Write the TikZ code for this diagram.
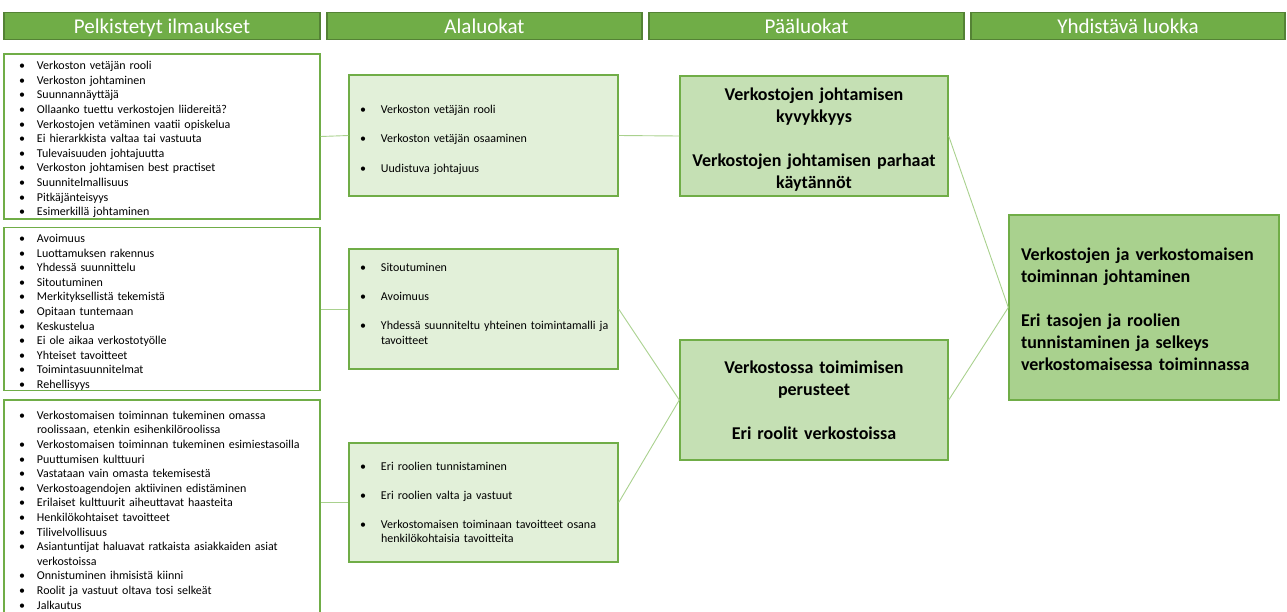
\documentclass[tikz,border=0pt]{standalone}
\usepackage{fontspec}
\setmainfont{Carlito}
\definecolor{hdrfill}{HTML}{70AD47}
\definecolor{hdrdraw}{HTML}{548235}
\definecolor{gborder}{HTML}{70AD47}
\definecolor{midfill}{HTML}{E2F0D9}
\definecolor{mainfill}{HTML}{C5E0B4}
\definecolor{finfill}{HTML}{A9D18E}
\definecolor{connc}{HTML}{A9D18E}
\newcommand{\bl}[1]{\makebox[18pt][l]{\textbullet}\mbox{#1}}
\newcommand{\bm}[1]{\makebox[21pt][l]{\textbullet}\mbox{#1}}
\tikzset{
  hdrbox/.style={draw=hdrdraw, line width=1.2pt, fill=hdrfill, text=white,
    inner sep=0pt, minimum height=27pt, text height=17pt, text depth=2pt,
    font=\fontsize{21}{24}\selectfont},
  leftbox/.style={draw=gborder, line width=1.4pt, fill=white, align=left,
    inner xsep=15pt, inner ysep=0pt, text width=286pt, minimum width=316pt,
    font=\fontsize{12}{14.6}\selectfont},
  midbox/.style={draw=gborder, line width=1.4pt, fill=midfill, align=left,
    inner xsep=11pt, inner ysep=0pt, text width=247pt, minimum width=269pt,
    font=\fontsize{12}{14.5}\selectfont},
  mainbox/.style={draw=gborder, line width=1.4pt, fill=mainfill, align=center,
    inner xsep=4pt, inner ysep=0pt, text width=260pt, minimum width=268pt,
    minimum height=120pt, font=\bfseries\fontsize{18}{22}\selectfont},
  finbox/.style={draw=gborder, line width=1.4pt, fill=finfill, align=left,
    inner xsep=12pt, inner ysep=0pt, text width=246pt, minimum width=270pt,
    minimum height=185pt, font=\bfseries\fontsize{18}{22}\selectfont},
  conn/.style={draw=connc, line width=0.9pt}
}
\begin{document}
\begin{tikzpicture}[x=1pt,y=-1pt]
\useasboundingbox (0,0) rectangle (1287,611);
% headers
\node[hdrbox, minimum width=316pt] (h1) at (162,25.8) {Pelkistetyt ilmaukset};
\node[hdrbox, minimum width=315pt] (h2) at (484.5,25.8) {Alaluokat};
\node[hdrbox, minimum width=315pt] (h3) at (806.5,25.8) {Pääluokat};
\node[hdrbox, minimum width=314pt] (h4) at (1128,25.8) {Yhdistävä luokka};
% left boxes
\node[leftbox, minimum height=165pt] (la) at (162,136.5) {%
\rule{0pt}{14.5pt}\bl{Verkoston vetäjän rooli}\\
\bl{Verkoston johtaminen}\\
\bl{Suunnannäyttäjä}\\
\bl{Ollaanko tuettu verkostojen liidereitä?}\\
\bl{Verkostojen vetäminen vaatii opiskelua}\\
\bl{Ei hierarkkista valtaa tai vastuuta}\\
\bl{Tulevaisuuden johtajuutta}\\
\bl{Verkoston johtamisen best practiset}\\
\bl{Suunnitelmallisuus}\\
\bl{Pitkäjänteisyys}\\
\bl{Esimerkillä johtaminen}};
\node[leftbox, minimum height=161pt] (lb) at (162,309) {%
\rule{0pt}{15pt}\bl{Avoimuus}\\
\bl{Luottamuksen rakennus}\\
\bl{Yhdessä suunnittelu}\\
\bl{Sitoutuminen}\\
\bl{Merkityksellistä tekemistä}\\
\bl{Opitaan tuntemaan}\\
\bl{Keskustelua}\\
\bl{Ei ole aikaa verkostotyölle}\\
\bl{Yhteiset tavoitteet}\\
\bl{Toimintasuunnitelmat}\\
\bl{Rehellisyys}};
\node[leftbox, minimum height=220pt] (lc) at (162,510) {%
\bl{Verkostomaisen toiminnan tukeminen omassa}\\
\hspace*{18pt}roolissaan, etenkin esihenkilöroolissa\\
\bl{Verkostomaisen toiminnan tukeminen esimiestasoilla}\\
\bl{Puuttumisen kulttuuri}\\
\bl{Vastataan vain omasta tekemisestä}\\
\bl{Verkostoagendojen aktiivinen edistäminen}\\
\bl{Erilaiset kulttuurit aiheuttavat haasteita}\\
\bl{Henkilökohtaiset tavoitteet}\\
\bl{Tilivelvollisuus}\\
\bl{Asiantuntijat haluavat ratkaista asiakkaiden asiat}\\
\hspace*{18pt}verkostoissa\\
\bl{Onnistuminen ihmisistä kiinni}\\
\bl{Roolit ja vastuut oltava tosi selkeät}\\
\bl{Jalkautus}};
% middle boxes
\node[midbox, minimum height=121pt] (m1) at (483.5,135.5) {%
\rule{0pt}{17pt}\bm{Verkoston vetäjän rooli}\\[15pt]
\bm{Verkoston vetäjän osaaminen}\\[15pt]
\bm{Uudistuva johtajuus}};
\node[midbox, minimum height=120pt] (m2) at (483.5,309) {%
\rule{0pt}{12pt}\bm{Sitoutuminen}\\[14.5pt]
\bm{Avoimuus}\\[14.5pt]
\bm{Yhdessä suunniteltu yhteinen toimintamalli ja}\\
\hspace*{21pt}tavoitteet\\
\mbox{}};
\node[midbox, minimum height=119pt] (m3) at (483.5,502.5) {%
\bm{Eri roolien tunnistaminen}\\[14.5pt]
\bm{Eri roolien valta ja vastuut}\\[14.5pt]
\bm{Verkostomaisen toiminaan tavoitteet osana}\\
\hspace*{21pt}henkilökohtaisia tavoitteita};
% main boxes
\node[mainbox] (p1) at (814,136) {\rule{0pt}{20pt}Verkostojen johtamisen\\kyvykkyys\\[22pt]Verkostojen johtamisen parhaat\\käytännöt};
\node[mainbox] (p2) at (814,400) {Verkostossa toimimisen\\perusteet\\[22pt]Eri roolit verkostoissa};
% final box
\node[finbox] (fin) at (1144,307.5) {\rule{0pt}{17pt}Verkostojen ja verkostomaisen\\toiminnan johtaminen\\[22pt]Eri tasojen ja roolien\\tunnistaminen ja selkeys\\verkostomaisessa toiminnassa};
% connectors
\draw[conn] (la.east) -- (m1.west);
\draw[conn] (lb.east) -- (m2.west);
\draw[conn] (m3.west -| lc.east) -- (m3.west);
\draw[conn] (m1.east) -- (p1.west);
\draw[conn] (m2.east) -- (p2.west);
\draw[conn] (m3.east) -- (p2.west);
\draw[conn] (p1.east) -- (fin.west);
\draw[conn] (p2.east) -- (fin.west);
\end{tikzpicture}
\end{document}
